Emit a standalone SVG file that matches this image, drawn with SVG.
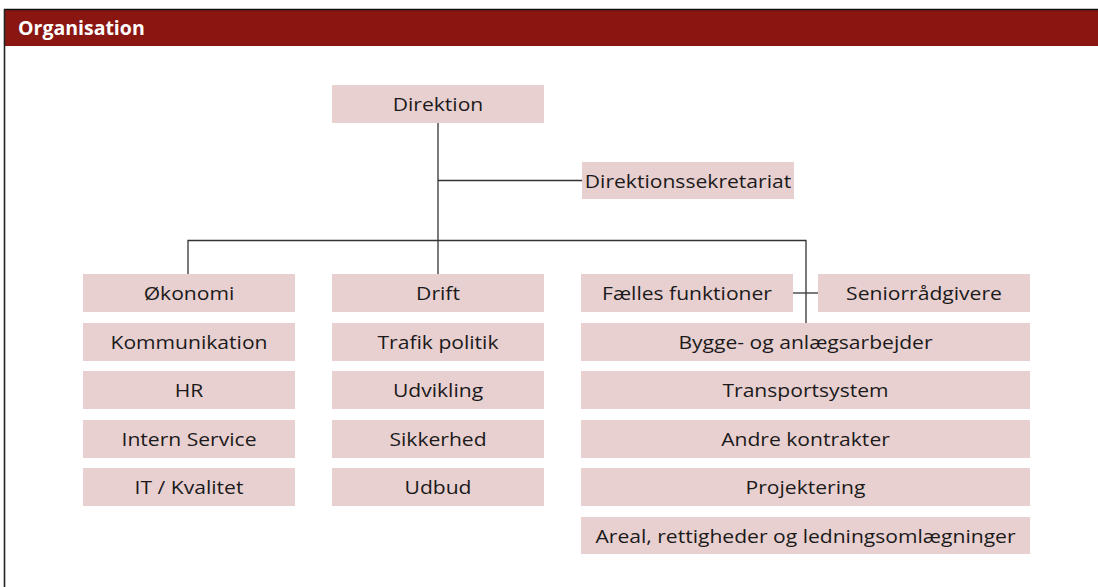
<svg xmlns="http://www.w3.org/2000/svg" width="1098" height="587" viewBox="0 0 1098 587">
<style>
.box{fill:#E9D0D0}
.t{font-family:"Open Sans","Liberation Sans",sans-serif;font-size:19px;fill:#1a1a1a;text-anchor:middle}
.c{stroke:#333;stroke-width:1.3;fill:none}
</style>
<rect x="0" y="0" width="1098" height="587" fill="#fff"/>
<g id="header">
<rect x="4" y="9" width="1094" height="37" fill="#8A1612"/>
<line x1="4" y1="9.5" x2="1098" y2="9.5" stroke="#111" stroke-width="1.5"/>
<line x1="4.5" y1="9" x2="4.5" y2="587" stroke="#222" stroke-width="1.6"/>
<text x="18" y="35" font-family="'Open Sans','Liberation Sans',sans-serif" font-size="19.5" font-weight="bold" fill="#fff">Organisation</text>
</g>
<g id="connectors">
<line class="c" x1="438" y1="123" x2="438" y2="274"/>
<line class="c" x1="438" y1="180.5" x2="582" y2="180.5"/>
<polyline class="c" points="188,274 188,240.5 806,240.5 806,323"/>
<line class="c" x1="793" y1="293" x2="818" y2="293"/>
</g>
<g id="n-direktion"><rect class="box" x="332" y="85" width="212" height="38"/><text class="t" transform="translate(438 111) scale(1.11 1)">Direktion</text></g>
<g id="n-sekretariat"><rect class="box" x="582" y="162" width="212" height="37"/><text class="t" transform="translate(688 187.5) scale(1.11 1)">Direktionssekretariat</text></g>
<g id="n-okonomi"><rect class="box" x="83" y="274" width="212" height="38"/><text class="t" transform="translate(189 300) scale(1.11 1)">Økonomi</text></g>
<g id="n-kommunikation"><rect class="box" x="83" y="323" width="212" height="38"/><text class="t" transform="translate(189 349) scale(1.11 1)">Kommunikation</text></g>
<g id="n-hr"><rect class="box" x="83" y="371" width="212" height="38"/><text class="t" transform="translate(189 397) scale(1.11 1)">HR</text></g>
<g id="n-intern"><rect class="box" x="83" y="420" width="212" height="38"/><text class="t" transform="translate(189 446) scale(1.11 1)">Intern Service</text></g>
<g id="n-it"><rect class="box" x="83" y="468" width="212" height="38"/><text class="t" transform="translate(189 494) scale(1.11 1)">IT / Kvalitet</text></g>
<g id="n-drift"><rect class="box" x="332" y="274" width="212" height="38"/><text class="t" transform="translate(438 300) scale(1.11 1)">Drift</text></g>
<g id="n-trafik"><rect class="box" x="332" y="323" width="212" height="38"/><text class="t" transform="translate(438 349) scale(1.11 1)">Trafik politik</text></g>
<g id="n-udvikling"><rect class="box" x="332" y="371" width="212" height="38"/><text class="t" transform="translate(438 397) scale(1.11 1)">Udvikling</text></g>
<g id="n-sikkerhed"><rect class="box" x="332" y="420" width="212" height="38"/><text class="t" transform="translate(438 446) scale(1.11 1)">Sikkerhed</text></g>
<g id="n-udbud"><rect class="box" x="332" y="468" width="212" height="38"/><text class="t" transform="translate(438 494) scale(1.11 1)">Udbud</text></g>
<g id="n-faelles"><rect class="box" x="581" y="274" width="212" height="38"/><text class="t" transform="translate(687 300) scale(1.11 1)">Fælles funktioner</text></g>
<g id="n-senior"><rect class="box" x="818" y="274" width="212" height="38"/><text class="t" transform="translate(924 300) scale(1.11 1)">Seniorrådgivere</text></g>
<g id="n-bygge"><rect class="box" x="581" y="323" width="449" height="38"/><text class="t" transform="translate(805.5 349) scale(1.11 1)">Bygge- og anlægsarbejder</text></g>
<g id="n-transport"><rect class="box" x="581" y="371" width="449" height="38"/><text class="t" transform="translate(805.5 397) scale(1.11 1)">Transportsystem</text></g>
<g id="n-andre"><rect class="box" x="581" y="420" width="449" height="38"/><text class="t" transform="translate(805.5 446) scale(1.11 1)">Andre kontrakter</text></g>
<g id="n-projektering"><rect class="box" x="581" y="468" width="449" height="38"/><text class="t" transform="translate(805.5 494) scale(1.11 1)">Projektering</text></g>
<g id="n-areal"><rect class="box" x="581" y="517" width="449" height="37"/><text class="t" transform="translate(805.5 542.5) scale(1.11 1)">Areal, rettigheder og ledningsomlægninger</text></g>
</svg>
